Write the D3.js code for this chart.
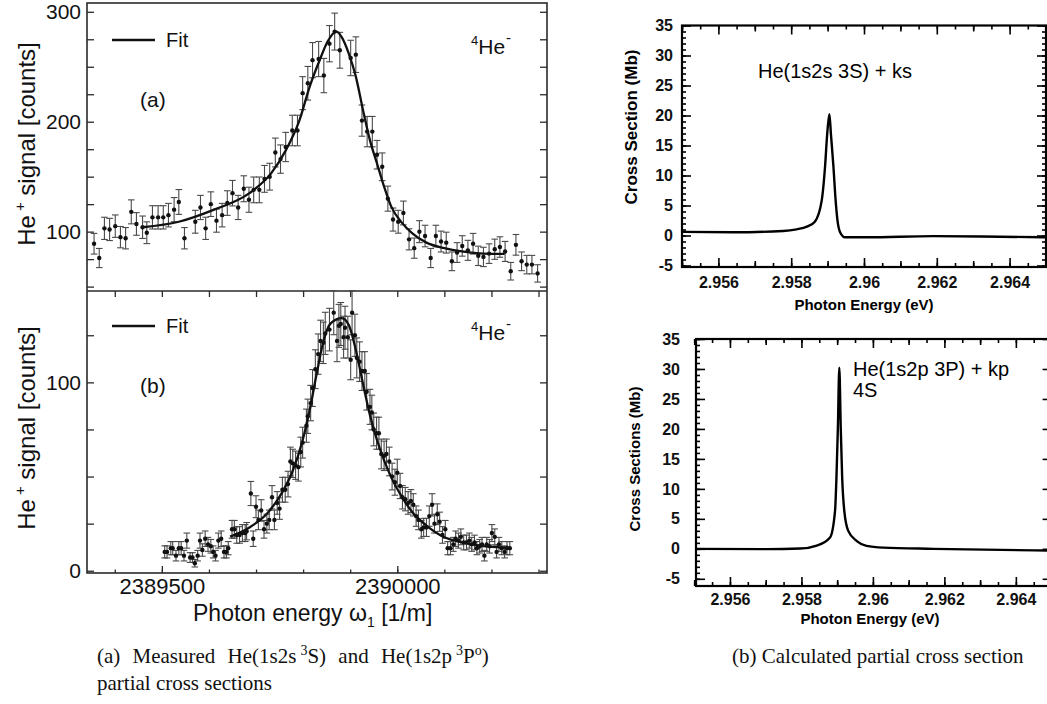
<!DOCTYPE html>
<html>
<head>
<meta charset="utf-8">
<script src="https://cdn.jsdelivr.net/npm/d3@7"></script>
<style>
  body { margin: 0; background: #fff; }
  svg { display: block; }
</style>
</head>
<body>
<script>
// ---------- data ----------
// (a) He(1s2s 3S) measurement: photon energy [1/m], counts, error
const aX = [2389356, 2389367, 2389378, 2389389, 2389401, 2389412, 2389423, 2389435, 2389446, 2389459,
  2389468, 2389480, 2389492, 2389503, 2389514, 2389526, 2389536, 2389548, 2389571, 2389582,
  2389593, 2389604, 2389616, 2389628, 2389639, 2389650, 2389662, 2389674, 2389685, 2389695,
  2389707, 2389718, 2389729, 2389741, 2389752, 2389763, 2389777, 2389788, 2389799, 2389810,
  2389820, 2389833, 2389844, 2389856, 2389867, 2389878, 2389901, 2389912, 2389925, 2389936,
  2389947, 2389957, 2389968, 2389980, 2389991, 2390002, 2390013, 2390025, 2390036, 2390047,
  2390059, 2390071, 2390082, 2390093, 2390104, 2390116, 2390127, 2390138, 2390150, 2390161,
  2390172, 2390183, 2390195, 2390207, 2390218, 2390229, 2390241, 2390252, 2390264, 2390275,
  2390286, 2390298]
const aY = [89, 76, 103, 102, 105, 95, 94, 118, 107, 104,
  99, 113, 113, 113, 115, 120, 127, 94, 109, 122,
  103, 125, 110, 115, 126, 135, 122, 139, 129, 138,
  138, 148, 150, 172, 166, 177, 192, 192, 226, 235,
  256, 257, 242, 271, 282, 265, 258, 261, 201, 191,
  191, 170, 159, 130, 111, 109, 117, 93, 85, 100,
  96, 76, 96, 91, 90, 73, 81, 87, 83, 89,
  78, 77, 80, 84, 86, 82, 64, 88, 73, 70,
  70, 62]
const aErr = [9.4, 8.7, 10.1, 10.1, 10.2, 9.7, 9.7, 10.9, 10.3, 10.2,
  9.9, 10.6, 10.6, 10.6, 10.7, 11, 11.3, 9.7, 10.4, 11,
  10.1, 11.2, 10.5, 10.7, 11.2, 11.6, 11, 11.8, 11.4, 11.7,
  11.7, 12.2, 12.2, 13.1, 12.9, 13.3, 13.9, 13.9, 15, 15.3,
  16, 16, 15.6, 16.5, 16.8, 16.3, 16.1, 16.2, 14.2, 13.8,
  13.8, 13, 12.6, 11.4, 10.5, 10.4, 10.8, 9.6, 9.2, 10,
  9.8, 8.7, 9.8, 9.5, 9.5, 8.5, 9, 9.3, 9.1, 9.4,
  8.8, 8.8, 8.9, 9.2, 9.3, 9.1, 8, 9.4, 8.5, 8.4,
  8.4, 7.9]
const aFitX = [2389459, 2389536, 2389611, 2389686, 2389732, 2389762, 2389792, 2389814, 2389837, 2389852,
  2389871, 2389882, 2389897, 2389912, 2389927, 2389942, 2389957, 2389972, 2389987, 2390010,
  2390032, 2390062, 2390100, 2390137, 2390175, 2390228]
const aFitY = [104, 109, 120, 135, 153, 173, 201, 232, 258, 273,
  282, 277, 262, 241, 211, 183, 162, 141, 123, 108,
  98.5, 90, 85, 82, 80.3, 79.7]

// (b) He(1s2p 3P) measurement
const bX = [2389506, 2389511, 2389519, 2389523, 2389530, 2389536, 2389541, 2389547, 2389553, 2389560,
  2389565, 2389570, 2389576, 2389581, 2389586, 2389592, 2389598, 2389604, 2389609, 2389614,
  2389620, 2389626, 2389632, 2389637, 2389641, 2389649, 2389654, 2389659, 2389665, 2389671,
  2389677, 2389680, 2389689, 2389694, 2389700, 2389705, 2389711, 2389717, 2389723, 2389728,
  2389734, 2389739, 2389745, 2389750, 2389756, 2389762, 2389768, 2389773, 2389778, 2389784,
  2389790, 2389795, 2389799, 2389807, 2389810, 2389816, 2389820, 2389826, 2389832, 2389837,
  2389843, 2389847, 2389856, 2389865, 2389872, 2389876, 2389880, 2389886, 2389889, 2389895,
  2389901, 2389904, 2389910, 2389914, 2389920, 2389925, 2389931, 2389935, 2389942, 2389946,
  2389950, 2389956, 2389961, 2389966, 2389972, 2389977, 2389983, 2389989, 2389995, 2390000,
  2390006, 2390011, 2390017, 2390023, 2390029, 2390034, 2390040, 2390045, 2390051, 2390056,
  2390062, 2390068, 2390074, 2390079, 2390085, 2390090, 2390096, 2390102, 2390107, 2390113,
  2390119, 2390124, 2390130, 2390135, 2390141, 2390147, 2390153, 2390158, 2390164, 2390169,
  2390175, 2390180, 2390185, 2390190, 2390196, 2390201, 2390207, 2390211, 2390216, 2390222,
  2390228, 2390233, 2390239]
const bY = [10, 10, 12, 12, 8, 12, 12, 8, 16, 7,
  7, 4, 8, 16, 11, 17, 14, 13, 10, 8,
  16, 17, 10, 10, 12, 22, 22, 19, 19, 20,
  20, 21, 41, 17, 34, 27, 32, 22, 25, 27,
  39, 27, 36, 33, 43, 43, 46, 58, 57, 56,
  55, 63, 68, 77, 82, 89, 97, 107, 115, 122,
  121, 126, 128, 137, 122, 130, 131, 124, 129, 124,
  112, 137, 125, 113, 111, 106, 106, 95, 87, 84,
  75, 73, 73, 62, 61, 62, 58, 50, 47, 52,
  45, 39, 38, 36, 37, 35, 29, 27, 22, 23,
  23, 29, 35, 25, 30, 26, 19, 22, 12, 12,
  14, 17, 16, 18, 15, 15, 16, 14, 15, 12,
  13, 14, 8, 14, 13, 20, 18, 10, 14, 12,
  10, 12, 12]
const bErr = [3.2, 3.2, 3.5, 3.5, 2.8, 3.5, 3.5, 2.8, 4, 2.6,
  2.6, 2, 2.8, 4, 3.3, 4.1, 3.7, 3.6, 3.2, 2.8,
  4, 4.1, 3.2, 3.2, 3.5, 4.7, 4.7, 4.4, 4.4, 4.5,
  4.5, 4.6, 6.4, 4.1, 5.8, 5.2, 5.7, 4.7, 5, 5.2,
  6.2, 5.2, 6, 5.7, 6.6, 6.6, 6.8, 7.6, 7.5, 7.5,
  7.4, 7.9, 8.2, 8.8, 9.1, 9.4, 9.8, 10.3, 10.7, 11,
  11, 11.2, 11.3, 11.7, 11, 11.4, 11.4, 11.1, 11.4, 11.1,
  10.6, 11.7, 11.2, 10.6, 10.5, 10.3, 10.3, 9.7, 9.3, 9.2,
  8.7, 8.5, 8.5, 7.9, 7.8, 7.9, 7.6, 7.1, 6.9, 7.2,
  6.7, 6.2, 6.2, 6, 6.1, 5.9, 5.4, 5.2, 4.7, 4.8,
  4.8, 5.4, 5.9, 5, 5.5, 5.1, 4.4, 4.7, 3.5, 3.5,
  3.7, 4.1, 4, 4.2, 3.9, 3.9, 4, 3.7, 3.9, 3.5,
  3.6, 3.7, 2.8, 3.7, 3.6, 4.5, 4.2, 3.2, 3.7, 3.5,
  3.2, 3.5, 3.5]
const bFitX = [2389645, 2389686, 2389724, 2389754, 2389777, 2389799, 2389814, 2389829, 2389844, 2389859,
  2389882, 2389897, 2389912, 2389927, 2389942, 2389957, 2389972, 2389987, 2390010, 2390032,
  2390062, 2390100, 2390137, 2390175, 2390239]
const bFitY = [18.1, 23, 30.5, 40.9, 52.4, 69.3, 85.3, 104.8, 122.6, 131.4,
  134.1, 130.5, 117.2, 99.5, 82.6, 69.3, 58.6, 49.7, 39.1, 31.1,
  24, 17.8, 15.1, 13.3, 12.1]

// calculated cross sections [Mb] vs photon energy [eV]
const sX = [2.955, 2.95641, 2.95778, 2.95815, 2.95843, 2.95865, 2.95884, 2.95893, 2.95899, 2.95905,
  2.95909, 2.95916, 2.95922, 2.95927, 2.95934, 2.95948, 2.96007, 2.9619, 2.96374, 2.965]
const sY = [0.6, 0.53, 0.75, 1.03, 1.47, 2.3, 5.9, 11.5, 17, 20.2,
  17, 11.5, 5.9, 2.6, 0.6, -0.3, -0.3, -0.1, -0.2, -0.3]
const pX = [2.95507, 2.95703, 2.95796, 2.95843, 2.9588, 2.95894, 2.95898, 2.95902, 2.95906, 2.9591,
  2.95914, 2.9592, 2.95931, 2.95955, 2.95982, 2.96029, 2.96169, 2.965]
const pY = [0, -0.05, 0.05, 0.55, 1.9, 6.3, 11.9, 20.2, 30.2, 20.2,
  11.9, 6.3, 3, 1.3, 0.5, 0.2, 0, -0.3]

// ticks
const aTicks = [50, 75, 100, 125, 150, 175, 200, 225, 250, 275, 300]
const aLabels = [100, 200, 300]
const bTicks = [0, 25, 50, 75, 100, 125]
const bLabels = [0, 100]
const wTicks = [2389400, 2389500, 2389600, 2389700, 2389800, 2389900, 2390000, 2390100, 2390200, 2390300]
const wLabels = [2389500, 2390000]
const csMajor = [-5, 0, 5, 10, 15, 20, 25, 30, 35]
const csMinor = d3.range(-5, 36, 1)
const evLabels = [2.956, 2.958, 2.96, 2.962, 2.964]
const evMid = [2.955, 2.957, 2.959, 2.961, 2.963, 2.965]
const evMinor = d3.range(2.955, 2.96501, 0.0005)

// ---------- drawing ----------
const SANS = 'Liberation Sans, Arial, sans-serif'
const svg = d3.select('body').append('svg').attr('width', 1047).attr('height', 704)
svg.append('rect').attr('width', 1047).attr('height', 704).attr('fill', '#fff')

function tidy (sel, size, weight, color, width) {
  sel.select('.domain').remove()
  sel.attr('font-family', SANS).attr('font-size', size).attr('font-weight', weight)
  sel.selectAll('.tick line').attr('stroke', color).attr('stroke-width', width)
  sel.selectAll('.tick text').attr('fill', '#111')
}

// ===== left figure: measured =====
const lx = d3.scaleLinear().domain([2389341, 2390318]).range([87, 547])
const ya = d3.scaleLinear().domain([46, 308]).range([291, 3])
const yb = d3.scaleLinear().domain([-1.2, 148.5]).range([573, 291])
const L = svg.append('g')
const gray = '#2a2a2a'

function sideTicks (y, ticks, labels) {
  L.append('g').attr('transform', `translate(${lx.range()[0]},0)`)
    .call(d3.axisLeft(y).tickValues(ticks).tickSizeInner(-7).tickSizeOuter(0).tickPadding(6)
      .tickFormat(d => labels.includes(d) ? d : ''))
    .call(tidy, 21, 'normal', gray, 1.3)
  L.append('g').attr('transform', `translate(${lx.range()[1]},0)`)
    .call(d3.axisRight(y).tickValues(ticks).tickSizeInner(-7).tickSizeOuter(0).tickFormat(''))
    .call(tidy, 21, 'normal', gray, 1.3)
}
sideTicks(ya, aTicks, aLabels)
sideTicks(yb, bTicks, bLabels)

// bottom axis
L.append('g').attr('transform', `translate(0,${yb.range()[0]})`)
  .call(d3.axisBottom(lx).tickValues(wTicks).tickSizeInner(-3.5).tickSizeOuter(0).tickFormat(''))
  .call(tidy, 22, 'normal', gray, 1.3)
L.append('g').attr('transform', `translate(0,${yb.range()[0]})`)
  .call(d3.axisBottom(lx).tickValues(wLabels).tickSizeInner(-7).tickSizeOuter(0).tickPadding(5)
    .tickFormat(d3.format('d')))
  .call(tidy, 22, 'normal', gray, 1.3)
// ticks under the divider
L.append('g').attr('transform', `translate(0,${yb.range()[1]})`)
  .call(d3.axisTop(lx).tickValues(wTicks).tickSizeInner(-6).tickSizeOuter(0).tickFormat(''))
  .call(tidy, 22, 'normal', gray, 1.3)

// frame and divider
L.append('rect')
  .attr('x', lx.range()[0]).attr('y', ya.range()[1])
  .attr('width', lx.range()[1] - lx.range()[0]).attr('height', yb.range()[0] - ya.range()[1])
  .attr('fill', 'none').attr('stroke', gray).attr('stroke-width', 1.6)
L.append('line')
  .attr('x1', lx.range()[0]).attr('x2', lx.range()[1])
  .attr('y1', yb.range()[1]).attr('y2', yb.range()[1])
  .attr('stroke', gray).attr('stroke-width', 1.6)

function measured (y, xs, ys, es, fx, fy) {
  const pts = xs.map((x, i) => ({ x: x, v: ys[i], e: es[i] }))
  const eb = L.append('g').attr('stroke', '#4a4a4a').attr('stroke-width', 1.1)
  eb.selectAll('.v').data(pts).enter().append('line')
    .attr('x1', d => lx(d.x)).attr('x2', d => lx(d.x))
    .attr('y1', d => y(d.v - d.e)).attr('y2', d => y(d.v + d.e))
  ;[-1, 1].forEach(s => {
    eb.selectAll('.c' + s).data(pts).enter().append('line')
      .attr('x1', d => lx(d.x) - 3.3).attr('x2', d => lx(d.x) + 3.3)
      .attr('y1', d => y(d.v + s * d.e)).attr('y2', d => y(d.v + s * d.e))
  })
  L.append('path')
    .datum(fx.map((x, i) => [x, fy[i]]))
    .attr('fill', 'none').attr('stroke', '#111').attr('stroke-width', 2.3)
    .attr('d', d3.line().x(d => lx(d[0])).y(d => y(d[1])).curve(d3.curveMonotoneX))
  L.append('g').selectAll('circle').data(pts).enter().append('circle')
    .attr('cx', d => lx(d.x)).attr('cy', d => y(d.v)).attr('r', 2.2).attr('fill', '#111')
}
measured(ya, aX, aY, aErr, aFitX, aFitY)
measured(yb, bX, bY, bErr, bFitX, bFitY)

function panelText (top, tag) {
  L.append('line').attr('x1', 112).attr('x2', 155).attr('y1', top + 37).attr('y2', top + 37)
    .attr('stroke', '#111').attr('stroke-width', 2.5)
  L.append('text').attr('x', 166).attr('y', top + 44).text('Fit')
    .attr('font-family', SANS).attr('font-size', 20).attr('fill', '#111')
  L.append('text').attr('x', 140).attr('y', top + 104).text(tag)
    .attr('font-family', SANS).attr('font-size', 21).attr('fill', '#111')
  const t = L.append('text').attr('x', 471).attr('y', top + 51)
    .attr('font-family', SANS).attr('fill', '#111').attr('font-size', 21)
  t.append('tspan').text('4').attr('font-size', 13).attr('dy', -9)
  t.append('tspan').text('He').attr('dy', 9)
  t.append('tspan').text('-').attr('font-size', 15).attr('dy', -11).attr('dx', 1)
}
panelText(3, '(a)')
panelText(289, '(b)')

function yTitle (cy) {
  const t = L.append('text').attr('transform', `translate(35,${cy}) rotate(-90)`)
    .attr('text-anchor', 'middle').attr('font-family', SANS).attr('font-size', 24).attr('fill', '#111')
  t.append('tspan').text('He')
  t.append('tspan').text('+').attr('font-size', 15).attr('dy', -10).attr('dx', 4)
  t.append('tspan').text(' signal [counts]').attr('dy', 10)
}
yTitle(144)
yTitle(428)

const xt = L.append('text').attr('x', 193).attr('y', 621)
  .attr('font-family', SANS).attr('font-size', 23).attr('fill', '#111')
xt.append('tspan').text('Photon energy ω')
xt.append('tspan').text('1').attr('font-size', 14).attr('dy', 6)
xt.append('tspan').text('  [1/m]').attr('dy', -6)

// ===== right figures: calculated =====
function calc (x, y, xs, ys, label, yLabel, opt) {
  const G = svg.append('g')
  const [x0, x1] = x.range()
  const [y0, y1] = y.range()
  const axis = (fn, tr, vals, len, fmt, pad) => G.append('g').attr('transform', tr)
    .call(fn.tickValues(vals).tickSizeInner(-len).tickSizeOuter(0).tickPadding(pad || 3).tickFormat(fmt || ''))
    .call(tidy, 16, 'bold', '#000', 1.6)
  axis(d3.axisLeft(y), `translate(${x0},0)`, csMinor, 4)
  axis(d3.axisLeft(y), `translate(${x0},0)`, csMajor, 9, d => String(d), opt.lpad)
  axis(d3.axisRight(y), `translate(${x1},0)`, csMinor, 4)
  axis(d3.axisRight(y), `translate(${x1},0)`, csMajor, 9)
  axis(d3.axisBottom(x), `translate(0,${y0})`, evMinor, 4)
  axis(d3.axisBottom(x), `translate(0,${y0})`, evMid, 6)
  axis(d3.axisBottom(x), `translate(0,${y0})`, evLabels, 9, d => String(+d.toFixed(3)), opt.bpad)
  axis(d3.axisTop(x), `translate(0,${y1})`, evMinor, 4)
  axis(d3.axisTop(x), `translate(0,${y1})`, evMid, 6)
  axis(d3.axisTop(x), `translate(0,${y1})`, evLabels, 9)
  G.append('rect').attr('x', x0).attr('y', y1).attr('width', x1 - x0).attr('height', y0 - y1)
    .attr('fill', 'none').attr('stroke', '#000').attr('stroke-width', 2.2)
  G.append('path').datum(xs.map((v, i) => [v, ys[i]]))
    .attr('fill', 'none').attr('stroke', '#000').attr('stroke-width', 2.4).attr('stroke-linejoin', 'round')
    .attr('d', d3.line().x(d => x(d[0])).y(d => y(d[1])).curve(d3.curveMonotoneX))
  label.forEach((s, i) => {
    G.append('text').attr('x', opt.lx).attr('y', opt.ly + i * 21).text(s)
      .attr('font-family', SANS).attr('font-size', 20).attr('fill', '#000')
  })
  G.append('text').attr('transform', `translate(${opt.tx},${opt.ty}) rotate(-90)`)
    .attr('text-anchor', 'middle').text(yLabel)
    .attr('font-family', SANS).attr('font-weight', 'bold').attr('font-size', opt.tsize).attr('fill', '#000')
  G.append('text').attr('x', opt.bx).attr('y', opt.by).attr('text-anchor', 'middle').text('Photon Energy (eV)')
    .attr('font-family', SANS).attr('font-weight', 'bold').attr('font-size', 15).attr('fill', '#000')
}

const sx = d3.scaleLinear().domain([2.955, 2.965]).range([682, 1046])
const sy = d3.scaleLinear().domain([-5.25, 35]).range([267, 25.5])
calc(sx, sy, sX, sY, ['He(1s2s 3S) + ks'], 'Cross Section (Mb)',
  { lpad: 9, bpad: 10, lx: 758, ly: 78, tx: 637, ty: 127, tsize: 17, bx: 864, by: 310 })

const px = d3.scaleLinear().domain([2.95505, 2.965]).range([696, 1051.6])
const py = d3.scaleLinear().domain([-6.2, 35]).range([586, 339])
calc(px, py, pX, pY, ['He(1s2p 3P) + kp', '4S'], 'Cross Sections (Mb)',
  { lpad: 16, bpad: 8, lx: 853, ly: 376, tx: 640, ty: 459, tsize: 15, bx: 870, by: 624 })

// ===== captions =====
const SERIF = 'Liberation Serif, Times New Roman, serif'
const c1 = svg.append('text').attr('x', 97).attr('y', 663)
  .attr('font-family', SERIF).attr('font-size', 21).attr('fill', '#111').attr('word-spacing', 7)
c1.append('tspan').text('(a) Measured He(1s2s')
c1.append('tspan').text('3').attr('font-size', 14).attr('dy', -8).attr('dx', 4)
c1.append('tspan').text('S) and He(1s2p').attr('dy', 8)
c1.append('tspan').text('3').attr('font-size', 14).attr('dy', -8).attr('dx', 4)
c1.append('tspan').text('P').attr('dy', 8)
c1.append('tspan').text('o').attr('font-size', 14).attr('dy', -8)
c1.append('tspan').text(')').attr('dy', 8)
svg.append('text').attr('x', 97).attr('y', 690).text('partial cross sections')
  .attr('font-family', SERIF).attr('font-size', 21).attr('fill', '#111')
svg.append('text').attr('x', 732).attr('y', 663).text('(b) Calculated partial cross section')
  .attr('font-family', SERIF).attr('font-size', 21).attr('fill', '#111')
</script>
</body>
</html>
